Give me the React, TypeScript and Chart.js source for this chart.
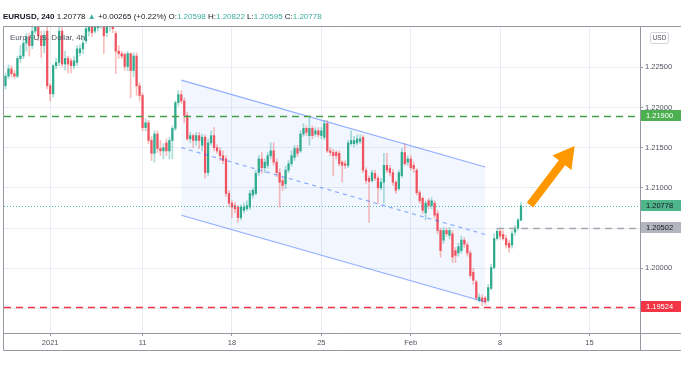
import React, { useEffect, useRef } from "react";
import { Chart, registerables } from "chart.js";

Chart.register(...registerables);

const FONT = '"Liberation Sans", Arial, sans-serif';

// ---- EURUSD 4h candles ----
const OPEN = [
  1.2227, 1.2239, 1.2248, 1.2242, 1.2239, 1.2261, 1.2264, 1.228, 1.2288, 1.2277,
  1.2295, 1.2305, 1.2289, 1.2277, 1.2295, 1.2227, 1.2217, 1.2252, 1.2256, 1.2295,
  1.2254, 1.2261, 1.2258, 1.2252, 1.2256, 1.2268, 1.2273, 1.2283, 1.2295, 1.2301,
  1.2295, 1.2299, 1.2301, 1.2301, 1.2293, 1.2301, 1.2308, 1.2292, 1.227, 1.2267,
  1.2266, 1.2251, 1.2267, 1.2246, 1.2264, 1.2227, 1.2215, 1.2175, 1.2181, 1.2159,
  1.2143, 1.2167, 1.2149, 1.2146, 1.2156, 1.2146, 1.2159, 1.2174, 1.2206, 1.2216,
  1.2208, 1.219, 1.2161, 1.2165, 1.2159, 1.2165, 1.2153, 1.2163, 1.2119, 1.2156,
  1.2165, 1.215, 1.2146, 1.214, 1.2136, 1.2093, 1.2081, 1.2078, 1.2076, 1.2063,
  1.2072, 1.2074, 1.2076, 1.2091, 1.2093, 1.2119, 1.2136, 1.2125, 1.2128, 1.214,
  1.2146, 1.2132, 1.2119, 1.2109, 1.2105, 1.2122, 1.213, 1.2138, 1.2149, 1.2146,
  1.2167, 1.2174, 1.2165, 1.2174, 1.2167, 1.2171, 1.2165, 1.2163, 1.218, 1.2146,
  1.2144, 1.2144, 1.2143, 1.2132, 1.213, 1.2128, 1.2155, 1.2155, 1.2156, 1.2158,
  1.2163, 1.2122, 1.2112, 1.2109, 1.2118, 1.2112, 1.21, 1.2107, 1.2128, 1.2124,
  1.2119, 1.2107, 1.2099, 1.2115, 1.2144, 1.2132, 1.2136, 1.2128, 1.2122, 1.2094,
  1.2087, 1.2069, 1.2084, 1.2078, 1.2081, 1.2068, 1.2047, 1.2035, 1.2047, 1.2041,
  1.2043, 1.2022, 1.2019, 1.2022, 1.2035, 1.2029, 1.2019, 1.1995, 1.1983, 1.196,
  1.1963, 1.1963, 1.196, 1.1975, 1.2001, 1.2037, 1.2046, 1.2042, 1.2037, 1.2031,
  1.2029, 1.2045, 1.205, 1.20598,
];
const HIGH = [
  1.2243, 1.2253, 1.2252, 1.2246, 1.2264, 1.2277, 1.2285, 1.2292, 1.2292, 1.2305,
  1.2314, 1.231, 1.2295, 1.2295, 1.2305, 1.223, 1.2254, 1.2261, 1.2301, 1.2301,
  1.227, 1.2264, 1.2261, 1.2264, 1.2277, 1.2278, 1.2289, 1.2305, 1.2308, 1.2308,
  1.231, 1.231, 1.2314, 1.2308, 1.231, 1.2314, 1.2314, 1.2295, 1.2277, 1.227,
  1.2268, 1.227, 1.2268, 1.2268, 1.2268, 1.2231, 1.2218, 1.2186, 1.2184, 1.2164,
  1.2171, 1.2171, 1.2159, 1.2155, 1.2161, 1.2163, 1.2177, 1.2208, 1.2221, 1.2221,
  1.2212, 1.2194, 1.2169, 1.2167, 1.2169, 1.2169, 1.2167, 1.2166, 1.2161, 1.2171,
  1.2175, 1.2154, 1.215, 1.2146, 1.214, 1.2097, 1.2084, 1.2082, 1.2078, 1.2079,
  1.2081, 1.2084, 1.2097, 1.21, 1.2122, 1.214, 1.2144, 1.2136, 1.2144, 1.2156,
  1.2156, 1.2136, 1.2124, 1.2113, 1.2127, 1.2134, 1.2146, 1.2153, 1.2153, 1.2171,
  1.218, 1.2177, 1.2187, 1.2177, 1.2175, 1.2175, 1.2175, 1.2184, 1.2184, 1.215,
  1.2148, 1.2146, 1.2146, 1.2134, 1.2134, 1.2159, 1.2171, 1.2164, 1.2166, 1.2166,
  1.2165, 1.2125, 1.2115, 1.2122, 1.2122, 1.2115, 1.2112, 1.2143, 1.2143, 1.2128,
  1.2123, 1.2109, 1.2122, 1.2149, 1.2155, 1.214, 1.214, 1.2132, 1.2124, 1.2097,
  1.2089, 1.2084, 1.2087, 1.2088, 1.2084, 1.2072, 1.205, 1.2051, 1.205, 1.2051,
  1.2047, 1.2026, 1.2031, 1.204, 1.2038, 1.2032, 1.2022, 1.2, 1.1985, 1.1968,
  1.1967, 1.1965, 1.198, 1.2005, 1.2043, 1.205, 1.205, 1.2047, 1.2041, 1.2035,
  1.2047, 1.2053, 1.2062, 1.20822,
];
const LOW = [
  1.2223, 1.2236, 1.2238, 1.2236, 1.2237, 1.2256, 1.2261, 1.227, 1.2264, 1.2273,
  1.2292, 1.2283, 1.2262, 1.2268, 1.2223, 1.2208, 1.2213, 1.2248, 1.2252, 1.2251,
  1.2246, 1.2243, 1.2243, 1.2248, 1.2252, 1.2264, 1.2267, 1.228, 1.2289, 1.2288,
  1.2292, 1.2295, 1.2298, 1.2267, 1.2288, 1.2295, 1.2293, 1.2242, 1.2261, 1.2261,
  1.2246, 1.2246, 1.2212, 1.2238, 1.2215, 1.2208, 1.2171, 1.2171, 1.2155, 1.2134,
  1.2132, 1.2144, 1.214, 1.2136, 1.214, 1.2136, 1.2136, 1.2171, 1.2202, 1.2205,
  1.2181, 1.2159, 1.2156, 1.215, 1.2153, 1.2149, 1.2146, 1.2112, 1.2115, 1.2153,
  1.2146, 1.2143, 1.2134, 1.213, 1.2089, 1.2077, 1.2063, 1.2069, 1.2057, 1.206,
  1.2069, 1.2072, 1.2073, 1.2087, 1.2091, 1.2115, 1.2118, 1.2119, 1.2124, 1.2136,
  1.2128, 1.2114, 1.2076, 1.2097, 1.2099, 1.2119, 1.2127, 1.2134, 1.2139, 1.2144,
  1.2164, 1.2165, 1.2153, 1.2161, 1.2164, 1.2163, 1.2161, 1.216, 1.2144, 1.214,
  1.2115, 1.2136, 1.2127, 1.2107, 1.2124, 1.2125, 1.2153, 1.2151, 1.2153, 1.2155,
  1.2119, 1.2105, 1.2057, 1.2107, 1.2109, 1.2081, 1.2097, 1.2081, 1.2119, 1.2115,
  1.2103, 1.2093, 1.2097, 1.2113, 1.2128, 1.2128, 1.2122, 1.2119, 1.2091, 1.2081,
  1.2068, 1.206, 1.2074, 1.2074, 1.2062, 1.2043, 1.2014, 1.2031, 1.204, 1.2037,
  1.2007, 1.2007, 1.2015, 1.2019, 1.2026, 1.2015, 1.1988, 1.198, 1.196, 1.1958,
  1.1953, 1.1955, 1.1958, 1.1973, 1.1999, 1.2035, 1.2036, 1.2035, 1.2025, 1.202,
  1.2025, 1.2041, 1.2047, 1.20595,
];
const CLOSE = [
  1.2239, 1.2248, 1.2242, 1.2239, 1.2261, 1.2264, 1.228, 1.2288, 1.2277, 1.2295,
  1.2308, 1.2289, 1.2277, 1.2289, 1.2227, 1.2217, 1.2252, 1.2256, 1.2295, 1.2254,
  1.2261, 1.2254, 1.2252, 1.2258, 1.2273, 1.2273, 1.228, 1.2298, 1.2301, 1.2293,
  1.2303, 1.2305, 1.2308, 1.2289, 1.2305, 1.2308, 1.2298, 1.227, 1.2267, 1.2264,
  1.2251, 1.2267, 1.2246, 1.2264, 1.2227, 1.2215, 1.2175, 1.2181, 1.2159, 1.2143,
  1.2167, 1.2149, 1.2146, 1.215, 1.2146, 1.2159, 1.2174, 1.2206, 1.2216, 1.2208,
  1.219, 1.2161, 1.2165, 1.2159, 1.2165, 1.2159, 1.2163, 1.2119, 1.2156, 1.2165,
  1.215, 1.2146, 1.214, 1.2134, 1.2093, 1.2081, 1.2076, 1.2074, 1.2063, 1.2076,
  1.2076, 1.2078, 1.2093, 1.2097, 1.2118, 1.2136, 1.2125, 1.2132, 1.214, 1.2146,
  1.2132, 1.2119, 1.2107, 1.2103, 1.2122, 1.213, 1.214, 1.2149, 1.2143, 1.2167,
  1.2174, 1.2169, 1.2174, 1.2165, 1.2171, 1.2166, 1.2171, 1.218, 1.2146, 1.2144,
  1.214, 1.214, 1.213, 1.2128, 1.2128, 1.2156, 1.2159, 1.2159, 1.2161, 1.2161,
  1.2122, 1.2109, 1.2108, 1.2119, 1.2112, 1.21, 1.2107, 1.2128, 1.2122, 1.2119,
  1.2107, 1.2097, 1.2119, 1.2144, 1.213, 1.2136, 1.2125, 1.2124, 1.2094, 1.2084,
  1.2072, 1.2081, 1.2078, 1.2084, 1.2066, 1.2047, 1.2022, 1.2047, 1.2043, 1.2047,
  1.2014, 1.2016, 1.2027, 1.2035, 1.203, 1.2019, 1.1991, 1.1985, 1.1963, 1.1964,
  1.1959, 1.1958, 1.1976, 1.2001, 1.2037, 1.2046, 1.204, 1.2037, 1.2029, 1.2026,
  1.2043, 1.205, 1.206, 1.20778,
];

// ---- axes ----
const TIME_TICK_BARS = [15, 46, 76, 106, 136, 166, 196];
const TIME_TICK_LABELS = ["2021", "11", "18", "25", "Feb", "8", "15"];
const PRICE_TICKS = [1.195, 1.2, 1.205, 1.21, 1.215, 1.22, 1.225];
const PRICE_MIN = 1.19195;
const PRICE_MAX = 1.23001;
const BAR_MIN = -0.5;
const BAR_MAX = 212.94;

// ---- drawings ----
const CHANNEL_BARS = [59, 161];
const CHANNEL_MID = [1.215, 1.2042];
const CHANNEL_HALF_WIDTH = 0.0084;
const RESISTANCE_LEVEL = 1.219;
const SUPPORT_LEVEL = 1.19524;
const PIVOT_LEVEL = 1.20502;
const PIVOT_FROM_BAR = 165;
const LAST_PRICE = 1.20778;
const ARROW_FROM = [176, 1.20787];
const ARROW_TO = [191, 1.21521];

const UP = "#2fab8e";
const DOWN = "#ef5360";
const TEAL_TEXT = "#3fae9f";
const DARK = "#131722";

const HEADER: [string, string, boolean][] = [
  ["EURUSD, 240 ", DARK, true],
  ["1.20778 ", DARK, false],
  ["\u25B2 ", TEAL_TEXT, false],
  ["+0.00265 (+0.22%) ", DARK, false],
  ["O:", DARK, false],
  ["1.20598 ", TEAL_TEXT, false],
  ["H:", DARK, false],
  ["1.20822 ", TEAL_TEXT, false],
  ["L:", DARK, false],
  ["1.20595 ", TEAL_TEXT, false],
  ["C:", DARK, false],
  ["1.20778", TEAL_TEXT, false],
];

const overlayPlugin = {
  id: "tvOverlay",
  beforeDatasetsDraw(chart: any) {
    const { ctx, chartArea: a } = chart;
    const x = chart.scales.x;
    const y = chart.scales.y;
    ctx.save();
    ctx.beginPath();
    ctx.rect(a.left, a.top, a.right - a.left, a.bottom - a.top);
    ctx.clip();
    const x0 = x.getPixelForValue(CHANNEL_BARS[0]);
    const x1 = x.getPixelForValue(CHANNEL_BARS[1]);
    ctx.fillStyle = "rgba(41, 98, 255, 0.06)";
    ctx.beginPath();
    ctx.moveTo(x0, y.getPixelForValue(CHANNEL_MID[0] + CHANNEL_HALF_WIDTH));
    ctx.lineTo(x1, y.getPixelForValue(CHANNEL_MID[1] + CHANNEL_HALF_WIDTH));
    ctx.lineTo(x1, y.getPixelForValue(CHANNEL_MID[1] - CHANNEL_HALF_WIDTH));
    ctx.lineTo(x0, y.getPixelForValue(CHANNEL_MID[0] - CHANNEL_HALF_WIDTH));
    ctx.closePath();
    ctx.fill();
    ctx.restore();
  },
  afterDatasetsDraw(chart: any) {
    const { ctx, chartArea: a } = chart;
    const x = chart.scales.x;
    const y = chart.scales.y;
    ctx.save();
    ctx.beginPath();
    ctx.rect(a.left, a.top, a.right - a.left, a.bottom - a.top);
    ctx.clip();

    const x0 = x.getPixelForValue(CHANNEL_BARS[0]);
    const x1 = x.getPixelForValue(CHANNEL_BARS[1]);
    const seg = (off: number, dash: number[]) => {
      ctx.setLineDash(dash);
      ctx.beginPath();
      ctx.moveTo(x0, y.getPixelForValue(CHANNEL_MID[0] + off));
      ctx.lineTo(x1, y.getPixelForValue(CHANNEL_MID[1] + off));
      ctx.stroke();
    };
    ctx.strokeStyle = "rgba(41, 98, 255, 0.5)";
    ctx.lineWidth = 1.2;
    seg(CHANNEL_HALF_WIDTH, []);
    seg(-CHANNEL_HALF_WIDTH, []);
    ctx.strokeStyle = "rgba(41, 98, 255, 0.5)";
    seg(0, [4, 4]);

    const hline = (v: number, from: number, to: number, color: string, dash: number[], w: number) => {
      const py = Math.round(y.getPixelForValue(v)) + 0.5;
      ctx.strokeStyle = color;
      ctx.lineWidth = w;
      ctx.setLineDash(dash);
      ctx.beginPath();
      ctx.moveTo(from, py);
      ctx.lineTo(to, py);
      ctx.stroke();
    };
    hline(LAST_PRICE, a.left, a.right, "rgba(38, 166, 154, 0.8)", [1, 2], 1);
    hline(RESISTANCE_LEVEL, a.left, a.right, "#43a047", [7, 5], 1.5);
    hline(SUPPORT_LEVEL, a.left, a.right, "#f23645", [7, 5], 1.5);
    hline(PIVOT_LEVEL, x.getPixelForValue(PIVOT_FROM_BAR), a.right, "#a3a6af", [7, 5], 1.5);
    ctx.setLineDash([]);

    // arrow
    const ax0 = x.getPixelForValue(ARROW_FROM[0]);
    const ay0 = y.getPixelForValue(ARROW_FROM[1]);
    const ax1 = x.getPixelForValue(ARROW_TO[0]);
    const ay1 = y.getPixelForValue(ARROW_TO[1]);
    const dx = ax1 - ax0;
    const dy = ay1 - ay0;
    const len = Math.hypot(dx, dy);
    const ux = dx / len;
    const uy = dy / len;
    const px = -uy;
    const py = ux;
    const headLen = 21;
    const hw = 12;
    const sw = 4;
    const bx = ax1 - ux * headLen;
    const by = ay1 - uy * headLen;
    ctx.fillStyle = "#ff9800";
    ctx.beginPath();
    ctx.moveTo(ax0 + px * sw, ay0 + py * sw);
    ctx.lineTo(bx + px * sw, by + py * sw);
    ctx.lineTo(bx + px * hw, by + py * hw);
    ctx.lineTo(ax1, ay1);
    ctx.lineTo(bx - px * hw, by - py * hw);
    ctx.lineTo(bx - px * sw, by - py * sw);
    ctx.lineTo(ax0 - px * sw, ay0 - py * sw);
    ctx.closePath();
    ctx.fill();
    ctx.restore();
  },
  afterDraw(chart: any) {
    const { ctx, chartArea: a, width } = chart;
    const y = chart.scales.y;
    ctx.save();

    // frame
    ctx.strokeStyle = "#9598a1";
    ctx.lineWidth = 1;
    const line = (x1: number, y1: number, x2: number, y2: number) => {
      ctx.beginPath();
      ctx.moveTo(x1, y1);
      ctx.lineTo(x2, y2);
      ctx.stroke();
    };
    const top = a.top - 0.5;
    const bot = a.bottom + 0.5;
    const axisBottom = a.bottom + 17.5;
    line(a.left - 0.5, top, width, top);
    line(a.left - 0.5, top, a.left - 0.5, axisBottom);
    line(a.right + 0.5, top, a.right + 0.5, axisBottom);
    line(a.left - 0.5, bot, width, bot);
    line(a.left - 0.5, axisBottom, width, axisBottom);

    // price labels on the axis
    const box = (v: number, bg: string, fg: string) => {
      const cy = y.getPixelForValue(v);
      ctx.fillStyle = bg;
      ctx.fillRect(a.right + 1, Math.round(cy - 5.5), width - a.right - 1, 11);
      ctx.fillStyle = fg;
      ctx.font = `7.5px ${FONT}`;
      ctx.textAlign = "left";
      ctx.textBaseline = "middle";
      ctx.fillText(v.toFixed(5), a.right + 6, Math.round(cy - 5.5) + 6);
    };
    box(RESISTANCE_LEVEL, "#4caf50", "#ffffff");
    box(LAST_PRICE, "#4fb58a", DARK);
    box(PIVOT_LEVEL, "#b2b5be", DARK);
    box(SUPPORT_LEVEL, "#f23645", "#ffffff");

    // USD button
    ctx.strokeStyle = "#d1d4dc";
    ctx.lineWidth = 1;
    ctx.beginPath();
    const bx = a.right + 10.5;
    const byy = a.top + 5.5;
    const bw = 18;
    const bh = 11;
    const r = 2;
    ctx.moveTo(bx + r, byy);
    ctx.arcTo(bx + bw, byy, bx + bw, byy + bh, r);
    ctx.arcTo(bx + bw, byy + bh, bx, byy + bh, r);
    ctx.arcTo(bx, byy + bh, bx, byy, r);
    ctx.arcTo(bx, byy, bx + bw, byy, r);
    ctx.closePath();
    ctx.fillStyle = "#ffffff";
    ctx.fill();
    ctx.stroke();
    ctx.fillStyle = "#50535e";
    ctx.font = `6.5px ${FONT}`;
    ctx.textAlign = "center";
    ctx.textBaseline = "middle";
    ctx.fillText("USD", bx + bw / 2, byy + bh / 2 + 0.5);

    // header line
    ctx.textAlign = "left";
    ctx.textBaseline = "middle";
    let total = 0;
    for (const [t, , b] of HEADER) {
      ctx.font = `${b ? "bold " : ""}10px ${FONT}`;
      total += ctx.measureText(t).width;
    }
    const size = (10 * 319) / total;
    let hx = 3;
    for (const [t, c, b] of HEADER) {
      ctx.font = `${b ? "bold " : ""}${size}px ${FONT}`;
      ctx.fillStyle = c;
      ctx.fillText(t, hx, 17);
      hx += ctx.measureText(t).width;
    }

    // series title overlay
    ctx.font = `8px ${FONT}`;
    ctx.fillStyle = "#50535e";
    ctx.fillText("Euro / U.S. Dollar, 4h,", a.left + 6, a.top + 11);
    ctx.restore();
  },
};

export default function App() {
  const ref = useRef<HTMLCanvasElement | null>(null);
  useEffect(() => {
    document.body.style.margin = "0";
    const canvas = ref.current;
    if (!canvas) return;
    const idx = OPEN.map((_, i) => i);
    const isUp = idx.map((i) => CLOSE[i] >= OPEN[i]);
    const wicks = idx.map((i) => ({ x: i, y: [LOW[i], HIGH[i]] }));
    const bodies = idx.map((i) => ({ x: i, y: [OPEN[i], CLOSE[i]] }));
    const chart = new Chart(canvas, {
      type: "bar",
      data: {
        datasets: [
          {
            data: wicks as any,
            backgroundColor: isUp.map((u) => (u ? "rgba(38,166,154,0.38)" : "rgba(239,83,80,0.38)")),
            barThickness: 1,
            grouped: false,
            order: 2,
          } as any,
          {
            data: bodies as any,
            backgroundColor: isUp.map((u) => (u ? UP : DOWN)),
            barThickness: 1.6,
            grouped: false,
            order: 1,
          } as any,
        ],
      },
      options: {
        animation: false,
        responsive: false,
        maintainAspectRatio: false,
        devicePixelRatio: 1,
        events: [],
        layout: { padding: { left: 4, top: 27, right: 0, bottom: 23 } },
        plugins: { legend: { display: false }, tooltip: { enabled: false } },
        scales: {
          x: {
            type: "linear",
            min: BAR_MIN,
            max: BAR_MAX,
            offset: false,
            afterBuildTicks: (s: any) => {
              s.ticks = TIME_TICK_BARS.map((v) => ({ value: v }));
            },
            afterFit: (s: any) => {
              s.height = 17;
            },
            ticks: {
              autoSkip: false,
              maxRotation: 0,
              padding: 2,
              color: "#50535e",
              font: { size: 7.5, family: FONT },
              callback: (v: any) => {
                const k = TIME_TICK_BARS.indexOf(Number(v));
                return k >= 0 ? TIME_TICK_LABELS[k] : "";
              },
            },
            grid: { color: "#e8edf3", tickLength: 3, tickColor: "#9598a1", offset: false },
            border: { display: false },
          },
          y: {
            position: "right",
            min: PRICE_MIN,
            max: PRICE_MAX,
            afterBuildTicks: (s: any) => {
              s.ticks = PRICE_TICKS.map((v) => ({ value: v }));
            },
            afterFit: (s: any) => {
              s.width = 41;
            },
            ticks: {
              padding: 2,
              color: "#50535e",
              font: { size: 7.5, family: FONT },
              callback: (v: any) => Number(v).toFixed(5),
            },
            grid: { color: "#e8edf3", tickLength: 3, tickColor: "#9598a1" },
            border: { display: false },
          },
        },
      } as any,
      plugins: [overlayPlugin],
    });
    return () => chart.destroy();
  }, []);
  return (
    <div style={{ position: "absolute", left: 0, top: 0, width: 681, height: 373, background: "#fff" }}>
      <canvas ref={ref} width={681} height={373} style={{ display: "block", width: 681, height: 373 }} />
    </div>
  );
}
